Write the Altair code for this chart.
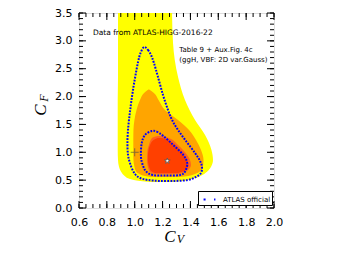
import altair as alt
import pandas as pd

W, H = 195, 195

# ---------------- data ----------------
# filled regions: for each C_F level, left and right C_V edges
yellow_y  = [3.50, 2.96, 2.35, 1.94, 1.58, 1.31, 1.04, 0.86, 0.74, 0.65, 0.57, 0.52, 0.485, 0.467]
yellow_xl = [0.880, 0.880, 0.880, 0.878, 0.878, 0.878, 0.878, 0.880, 0.887, 0.902, 0.930, 0.966, 1.038, 1.110]
yellow_xr = [1.268, 1.275, 1.311, 1.361, 1.433, 1.505, 1.551, 1.562, 1.548, 1.519, 1.469, 1.411, 1.347, 1.268]

orange_y  = [2.125, 2.065, 1.94, 1.76, 1.58, 1.40, 1.22, 1.04, 0.86, 0.74, 0.66, 0.61, 0.575, 0.557]
orange_xl = [1.098, 1.067, 1.038, 1.013, 0.998, 0.991, 0.990, 0.990, 0.991, 0.998, 1.009, 1.034, 1.074, 1.124]
orange_xr = [1.104, 1.138, 1.171, 1.217, 1.311, 1.390, 1.440, 1.476, 1.494, 1.490, 1.469, 1.433, 1.382, 1.325]

ring_y  = [1.293, 1.257, 1.131, 1.041, 0.862, 0.772, 0.700, 0.646, 0.610]
ring_xl = [1.165, 1.124, 1.102, 1.092, 1.088, 1.092, 1.099, 1.110, 1.146]
ring_xr = [1.200, 1.246, 1.311, 1.347, 1.397, 1.404, 1.390, 1.361, 1.318]

red_y  = [1.257, 1.221, 1.131, 1.041, 0.952, 0.862, 0.772, 0.718, 0.664, 0.628]
red_xl = [1.165, 1.135, 1.110, 1.099, 1.095, 1.095, 1.099, 1.106, 1.117, 1.146]
red_xr = [1.198, 1.239, 1.289, 1.325, 1.354, 1.375, 1.386, 1.379, 1.354, 1.311]

# ATLAS official contours (closed)
outer_x = [1.067, 1.095, 1.117, 1.138, 1.167, 1.203, 1.239, 1.268, 1.311, 1.368, 1.433, 1.469,
           1.483, 1.476, 1.440, 1.382, 1.289, 1.181, 1.095, 1.038, 1.002, 0.973, 0.952, 0.948,
           0.955, 0.966, 0.977, 0.991, 1.006, 1.024, 1.042]
outer_y = [2.890, 2.837, 2.747, 2.603, 2.352, 2.029, 1.759, 1.580, 1.400, 1.203, 0.987, 0.844,
           0.736, 0.628, 0.557, 0.503, 0.485, 0.485, 0.503, 0.539, 0.610, 0.754, 0.952, 1.221,
           1.490, 1.724, 1.939, 2.172, 2.388, 2.621, 2.783]
inner_x = [1.122, 1.158, 1.205, 1.277, 1.349, 1.377, 1.361, 1.325, 1.217, 1.131, 1.086, 1.062,
           1.045, 1.050, 1.074]
inner_y = [1.382, 1.370, 1.293, 1.131, 0.952, 0.803, 0.652, 0.592, 0.583, 0.592, 0.646, 0.741,
           0.916, 1.162, 1.311]

best_fit = (1.234, 0.844)
sm_point = (1.0, 1.0)

x_major = [0.6, 0.8, 1.0, 1.2, 1.4, 1.6, 1.8, 2.0]
y_major = [0.0, 0.5, 1.0, 1.5, 2.0, 2.5, 3.0, 3.5]
x_minor = [round(0.6 + 0.05 * i, 2) for i in range(29)]
y_minor = [round(0.1 * i, 1) for i in range(36)]

notes = ["Data from ATLAS-HIGG-2016-22", "Table 9 + Aux.Fig. 4c", "(ggH, VBF: 2D var.Gauss)"]
notes_x = [0.70, 1.32, 1.32]
notes_y = [3.14, 2.84, 2.66]
notes_size = [7.5, 7, 7]

# ---------------- chart ----------------
xsc = alt.Scale(domain=[0.6, 2.0], nice=False, zero=False)
ysc = alt.Scale(domain=[0.0, 3.5], nice=False, zero=False)
xaxis = alt.Axis(values=x_major, format=".1f", title=None, grid=False, ticks=False, tickSize=0,
                 domain=False, labelFontSize=11, labelFont="DejaVu Sans", labelColor="black",
                 labelPadding=8, labelFlush=False, labelOverlap=False)
yaxis = alt.Axis(values=y_major, format=".1f", title=None, grid=False, ticks=False, tickSize=0,
                 domain=False, labelFontSize=11, labelFont="DejaVu Sans", labelColor="black",
                 labelPadding=7, labelFlush=False, labelOverlap=False)


def band(ys, xl, xr, color):
    df = pd.DataFrame({"y": ys, "xl": xl, "xr": xr})
    return alt.Chart(df).mark_area(orient="horizontal", color=color, interpolate="monotone",
                                   clip=True).encode(
        y=alt.Y("y:Q", scale=ysc, axis=yaxis),
        x=alt.X("xl:Q", scale=xsc, axis=xaxis),
        x2="xr:Q",
    )


layers = [
    band(yellow_y, yellow_xl, yellow_xr, "#ffff00"),
    band(orange_y, orange_xl, orange_xr, "#ffa500"),
    band(ring_y, ring_xl, ring_xr, "#ff6320"),
    band(red_y, red_xl, red_xr, "#ff4000"),
]

rows = []
for k, (xs, ys) in enumerate([(outer_x, outer_y), (inner_x, inner_y)]):
    for i, (a, b) in enumerate(zip(xs, ys)):
        rows.append({"x": a, "y": b, "k": k, "o": i, "s": "ATLAS official"})
bdf = pd.DataFrame(rows)
layers.append(
    alt.Chart(bdf).mark_line(interpolate="cardinal-closed", strokeWidth=2, strokeDash=[1.8, 1.3],
                             clip=True).encode(
        x=alt.X("x:Q", scale=xsc, axis=xaxis),
        y=alt.Y("y:Q", scale=ysc, axis=yaxis),
        detail="k:N",
        order="o:Q",
        color=alt.Color("s:N", scale=alt.Scale(domain=["ATLAS official"], range=["#0000ff"]),
                        legend=alt.Legend(title=None, orient="none", legendX=119, legendY=178,
                                          padding=1, symbolOffset=3, strokeColor="black",
                                          fillColor="white", cornerRadius=0, symbolType="stroke",
                                          symbolSize=140, symbolDash=[2, 8.5], symbolStrokeWidth=2.2,
                                          labelFont="DejaVu Sans", labelFontSize=7,
                                          labelColor="black", labelOffset=6)),
    )
)

cross = "M-1,0L1,0M0,-1L0,1"
star = ("M0,-1L0.2245,-0.309L0.951,-0.309L0.363,0.118L0.588,0.809L0,0.382"
        "L-0.588,0.809L-0.363,0.118L-0.951,-0.309L-0.2245,-0.309Z")
layers.append(
    alt.Chart(pd.DataFrame({"x": [sm_point[0]], "y": [sm_point[1]]})).mark_point(
        shape=cross, size=64, filled=False, color="#555544", strokeWidth=1).encode(
        x=alt.X("x:Q", scale=xsc, axis=xaxis), y=alt.Y("y:Q", scale=ysc, axis=yaxis))
)
layers.append(
    alt.Chart(pd.DataFrame({"x": [best_fit[0]], "y": [best_fit[1]]})).mark_point(
        shape=star, size=36, filled=True, fill="white", stroke="#555555", strokeWidth=0.8,
        opacity=1).encode(
        x=alt.X("x:Q", scale=xsc, axis=xaxis), y=alt.Y("y:Q", scale=ysc, axis=yaxis))
)

ndf = pd.DataFrame({"x": notes_x, "y": notes_y, "t": notes, "fs": notes_size})
layers.append(
    alt.Chart(ndf).mark_text(align="left", baseline="middle", font="DejaVu Sans",
                             color="black").encode(
        x=alt.X("x:Q", scale=xsc, axis=xaxis), y=alt.Y("y:Q", scale=ysc, axis=yaxis),
        text="t:N", size=alt.Size("fs:Q", scale=None, legend=None))
)


def xticks(vals, length, bottom):
    df = pd.DataFrame({"v": vals})
    y0, y1 = (H, H - length) if bottom else (0, length)
    return alt.Chart(df).mark_rule(color="black", strokeWidth=1).encode(
        x=alt.X("v:Q", scale=xsc, axis=xaxis), y=alt.value(y0), y2=alt.value(y1))


def yticks(vals, length, left):
    df = pd.DataFrame({"v": vals})
    x0, x1 = (0, length) if left else (W, W - length)
    return alt.Chart(df).mark_rule(color="black", strokeWidth=1).encode(
        y=alt.Y("v:Q", scale=ysc, axis=yaxis), x=alt.value(x0), x2=alt.value(x1))


for side in (True, False):
    layers.append(xticks(x_minor, 4, side))
    layers.append(xticks(x_major, 7, side))
    layers.append(yticks(y_minor, 4, side))
    layers.append(yticks(y_major, 7, side))

# axis titles C_V and C_F
lab = pd.DataFrame({"t": ["C"]})
layers.append(alt.Chart(lab).mark_text(text="C", font="Liberation Serif", fontStyle="italic",
                                       fontSize=17, align="center", baseline="alphabetic",
                                       color="black").encode(x=alt.value(91), y=alt.value(228.5)))
layers.append(alt.Chart(lab).mark_text(text="V", font="Liberation Serif", fontStyle="italic",
                                       fontSize=12, align="center", baseline="alphabetic",
                                       color="black").encode(x=alt.value(101.5), y=alt.value(230)))
layers.append(alt.Chart(lab).mark_text(text="C", font="Liberation Serif", fontStyle="italic",
                                       fontSize=17, align="center", baseline="middle", angle=270,
                                       color="black").encode(x=alt.value(-38), y=alt.value(97)))
layers.append(alt.Chart(lab).mark_text(text="F", font="Liberation Serif", fontStyle="italic",
                                       fontSize=12, align="center", baseline="middle", angle=270,
                                       color="black").encode(x=alt.value(-35), y=alt.value(85)))

chart = alt.layer(*layers).properties(
    width=W, height=H, autosize="none",
    padding={"left": 71, "top": 5, "right": 50, "bottom": 38},
).configure_view(stroke="black", strokeWidth=1).configure(background="white")

chart.save("out.html", embed_options={"renderer": "svg", "actions": False})
